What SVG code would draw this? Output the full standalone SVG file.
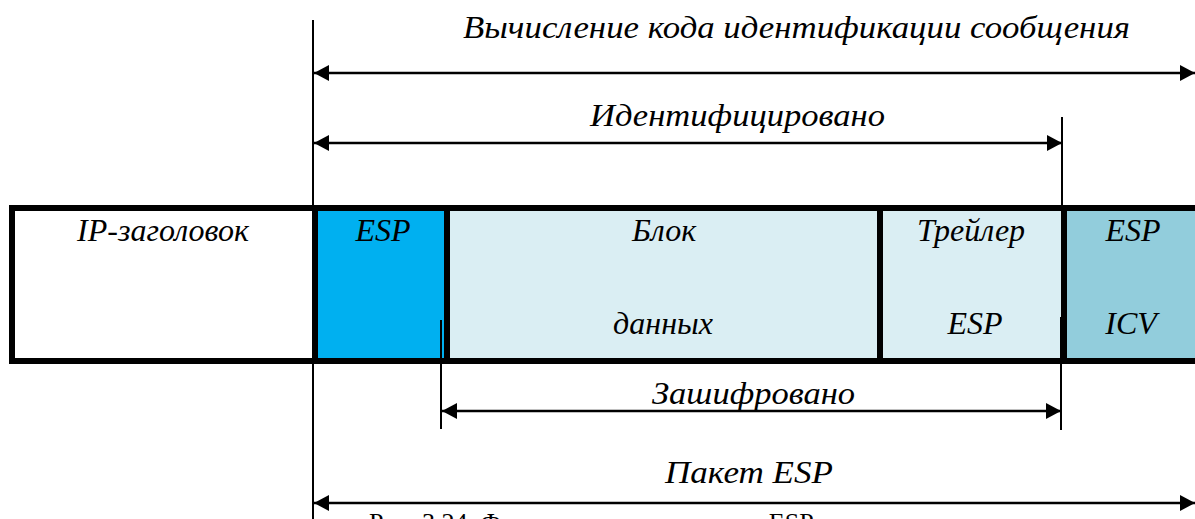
<svg xmlns="http://www.w3.org/2000/svg" width="1195" height="519" viewBox="0 0 1195 519">
<style>
.t{font-family:'Liberation Serif',serif;font-style:italic;font-size:32px;fill:#000}
.c{font-family:'Liberation Serif',serif;font-size:26px;fill:#000}
.ln{stroke:#000;stroke-width:2;fill:none}
.ar{stroke:#000;stroke-width:2.5;fill:none;marker-start:url(#ms);marker-end:url(#me)}
.dv{fill:#000}
</style>
<defs>
<marker id="me" markerUnits="userSpaceOnUse" markerWidth="17" markerHeight="18" refX="15" refY="9" orient="auto"><path d="M0,1 L15,9 L0,17 Z" fill="#000"/></marker>
<marker id="ms" markerUnits="userSpaceOnUse" markerWidth="17" markerHeight="18" refX="1" refY="9" orient="auto"><path d="M16,1 L1,9 L16,17 Z" fill="#000"/></marker>
</defs>
<rect width="1195" height="519" fill="#fff"/>
<g id="packet">
<g id="ip-header"><rect x="12" y="208" width="303" height="153" fill="#fff"/><text class="t" x="163" y="241" text-anchor="middle">IP-заголовок</text></g>
<g id="esp-header"><rect x="315" y="208" width="131" height="153" fill="#00B0F0"/><text class="t" x="383" y="241" text-anchor="middle">ESP</text></g>
<g id="data-block"><rect x="446" y="208" width="434" height="153" fill="#DAEEF3"/><text class="t" x="664" y="241" text-anchor="middle">Блок</text><text class="t" x="663" y="334" text-anchor="middle">данных</text></g>
<g id="esp-trailer"><rect x="880" y="208" width="184" height="153" fill="#DAEEF3"/><text class="t" x="971" y="241" text-anchor="middle">Трейлер</text><text class="t" x="975" y="334" text-anchor="middle">ESP</text></g>
<g id="esp-icv"><rect x="1064" y="208" width="131" height="153" fill="#92CDDC"/><text class="t" x="1133" y="241" text-anchor="middle">ESP</text><text class="t" x="1131" y="334" text-anchor="middle">ICV</text></g>
<rect class="dv" x="9" y="205" width="1186" height="6"/>
<rect class="dv" x="9" y="358" width="1186" height="6"/>
<rect class="dv" x="9" y="205" width="6" height="159"/>
<rect class="dv" x="312" y="205" width="6" height="159"/>
<rect class="dv" x="444" y="205" width="6" height="159"/>
<rect class="dv" x="877" y="205" width="6" height="159"/>
<rect class="dv" x="1061" y="205" width="6" height="159"/>
</g>
<g id="connectors">
<line class="ln" x1="313" y1="20" x2="313" y2="519"/>
<line class="ln" x1="1062" y1="117" x2="1062" y2="208"/>
<line class="ln" x1="1061" y1="317" x2="1061" y2="430"/>
<line class="ln" x1="441" y1="320" x2="441" y2="429"/>
<line class="ar" x1="314" y1="73" x2="1195" y2="73"/>
<line class="ar" x1="314" y1="143" x2="1062" y2="143"/>
<line class="ar" x1="442" y1="411" x2="1061" y2="411"/>
<line class="ar" x1="314" y1="503" x2="1195" y2="503"/>
</g>
<g id="labels">
<text class="t" x="463" y="38" font-size="34" textLength="667" lengthAdjust="spacingAndGlyphs">Вычисление кода идентификации сообщения</text>
<text class="t" x="590" y="126" textLength="295" lengthAdjust="spacingAndGlyphs">Идентифицировано</text>
<text class="t" x="652" y="404" textLength="203" lengthAdjust="spacingAndGlyphs">Зашифровано</text>
<text class="t" x="665" y="483" textLength="168" lengthAdjust="spacingAndGlyphs">Пакет ESP</text>
<text class="c" x="369" y="531">Рис. 3.24. Формат пакета протокола ESP</text>
</g>
</svg>
